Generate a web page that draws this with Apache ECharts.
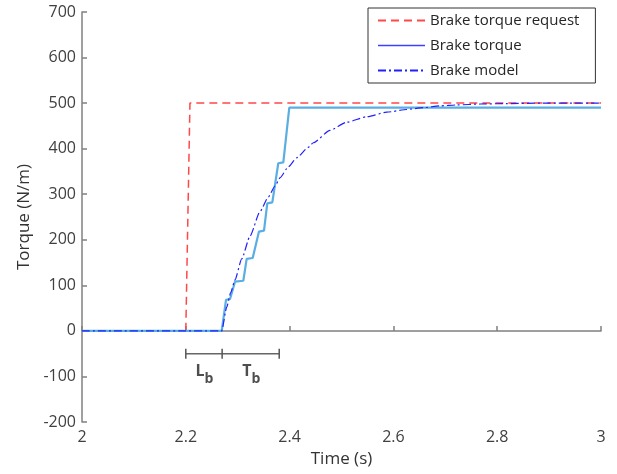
<!DOCTYPE html>
<html>
<head>
<meta charset="utf-8">
<script src="https://cdn.jsdelivr.net/npm/echarts@6/dist/echarts.min.js"></script>
<style>
html,body{margin:0;padding:0;background:#fff;}
#chart{width:617px;height:474px;}
</style>
</head>
<body>
<div id="chart"></div>
<script>
// Data
var requestTime = [2.0, 2.2, 2.208, 3.0];
var requestValue = [0, 0, 500, 500];

var torqueTime = [2.0, 2.2692, 2.2775, 2.2852, 2.2948, 2.3108, 2.3173, 2.3289, 2.3410, 2.3507, 2.3570, 2.3667, 2.3782, 2.3879, 2.3994, 3.0];
var torqueValue = [0, 0, 68, 70, 108, 110, 158, 160, 218, 220, 280, 282, 368, 370, 490, 490];

var modelTime = [2.0, 2.2692, 2.2788, 2.2865, 2.2948, 2.3077, 2.3237, 2.3430, 2.3590, 2.3719, 2.3815, 2.3975, 2.4137, 2.4360, 2.4457, 2.4778, 2.5100, 2.5486, 2.5871, 2.6256, 2.6576, 2.6898, 2.7220, 2.7669, 2.8183, 2.8825, 3.0];
var modelValue = [0, 0, 52, 84, 112, 158, 208, 262, 294, 318, 336, 360, 380, 403, 413, 440, 458, 470, 480, 486, 490, 494, 496, 498, 499, 500, 500];

var annTime = [2.2, 2.27, 2.38];
var annValue = [-50, -50, -50];
var annLabelTime = [2.236, 2.326];
var annLabelValue = [-96, -96];
var annLabels = ['L', 'T'];

function zip(a, b) { return a.map(function (v, i) { return [v, b[i]]; }); }

var FONT = 'Open Sans';
var chart = echarts.init(document.getElementById('chart'), null, {renderer: 'canvas'});
chart.setOption({
  animation: false,
  backgroundColor: '#ffffff',
  grid: {left: 82, right: 16, top: 12, bottom: 52, containLabel: false},
  legend: {
    orient: 'vertical',
    left: 368, top: 8,
    padding: [5, 16, 5, 9],
    itemWidth: 47, itemHeight: 14, itemGap: 10,
    borderColor: '#333', borderWidth: 1,
    backgroundColor: '#fff',
    itemStyle: {opacity: 0},
    textStyle: {fontFamily: FONT, fontSize: 15, color: '#262626'},
    data: [
      {name: 'Brake torque request'},
      {name: 'Brake torque', lineStyle: {color: '#4040ff', width: 1.5}},
      {name: 'Brake model'}
    ]
  },
  xAxis: {
    type: 'value', min: 2, max: 3, interval: 0.2,
    name: 'Time (s)', nameLocation: 'middle', nameGap: 29,
    nameTextStyle: {fontFamily: FONT, fontSize: 17, color: '#333'},
    axisLine: {show: true, lineStyle: {color: '#808080', width: 1.5}},
    axisTick: {show: true, inside: true, length: 5, lineStyle: {color: '#808080', width: 1.5}},
    axisLabel: {fontFamily: FONT, fontSize: 16, color: '#404040', margin: 7,
      formatter: function (v) { return String(+v.toFixed(1)); }},
    splitLine: {show: false}
  },
  yAxis: {
    type: 'value', min: -200, max: 700, interval: 100,
    name: 'Torque (N/m)', nameLocation: 'middle', nameGap: 48,
    nameTextStyle: {fontFamily: FONT, fontSize: 17, color: '#333'},
    axisLine: {show: true, lineStyle: {color: '#808080', width: 1.5}},
    axisTick: {show: true, inside: true, length: 5, lineStyle: {color: '#808080', width: 1.5}},
    axisLabel: {fontFamily: FONT, fontSize: 16, color: '#404040', margin: 6},
    splitLine: {show: false}
  },
  series: [
    {
      name: 'Brake torque request', type: 'line', data: zip(requestTime, requestValue),
      symbol: 'none', z: 3,
      lineStyle: {color: '#ff4848', width: 1.5, type: [8, 5]},
      itemStyle: {color: '#ff4848'}
    },
    {
      name: 'Brake torque', type: 'line', data: zip(torqueTime, torqueValue),
      symbol: 'none', z: 4,
      lineStyle: {color: '#5aaee2', width: 2.2},
      itemStyle: {color: '#5aaee2'}
    },
    {
      name: 'Brake model', type: 'line', data: zip(modelTime, modelValue),
      symbol: 'none', smooth: 0.2, smoothMonotone: 'x', z: 5,
      lineStyle: {color: '#2020ff', width: 1.2, type: [8, 3, 2, 3]},
      itemStyle: {color: '#2020ff'}
    },
    {
      name: 'ann', type: 'line', data: zip(annTime, annValue),
      symbol: 'rect', symbolSize: [1.5, 10], showSymbol: true, z: 6,
      lineStyle: {color: '#666', width: 1.5},
      itemStyle: {color: '#555'}, silent: true
    },
    {
      name: 'annLabel', type: 'scatter', data: zip(annLabelTime, annLabelValue),
      symbolSize: 0, z: 7, silent: true,
      label: {
        show: true, position: 'inside',
        formatter: function (p) { return '{m|' + annLabels[p.dataIndex] + '}{s|b}'; },
        rich: {
          m: {fontFamily: FONT, fontSize: 16, fontWeight: 'bold', color: '#222', verticalAlign: 'top', lineHeight: 22},
          s: {fontFamily: FONT, fontSize: 14, fontWeight: 'bold', color: '#222', padding: [8, 0, 0, 0], lineHeight: 22}
        }
      }
    }
  ]
});
</script>
</body>
</html>
